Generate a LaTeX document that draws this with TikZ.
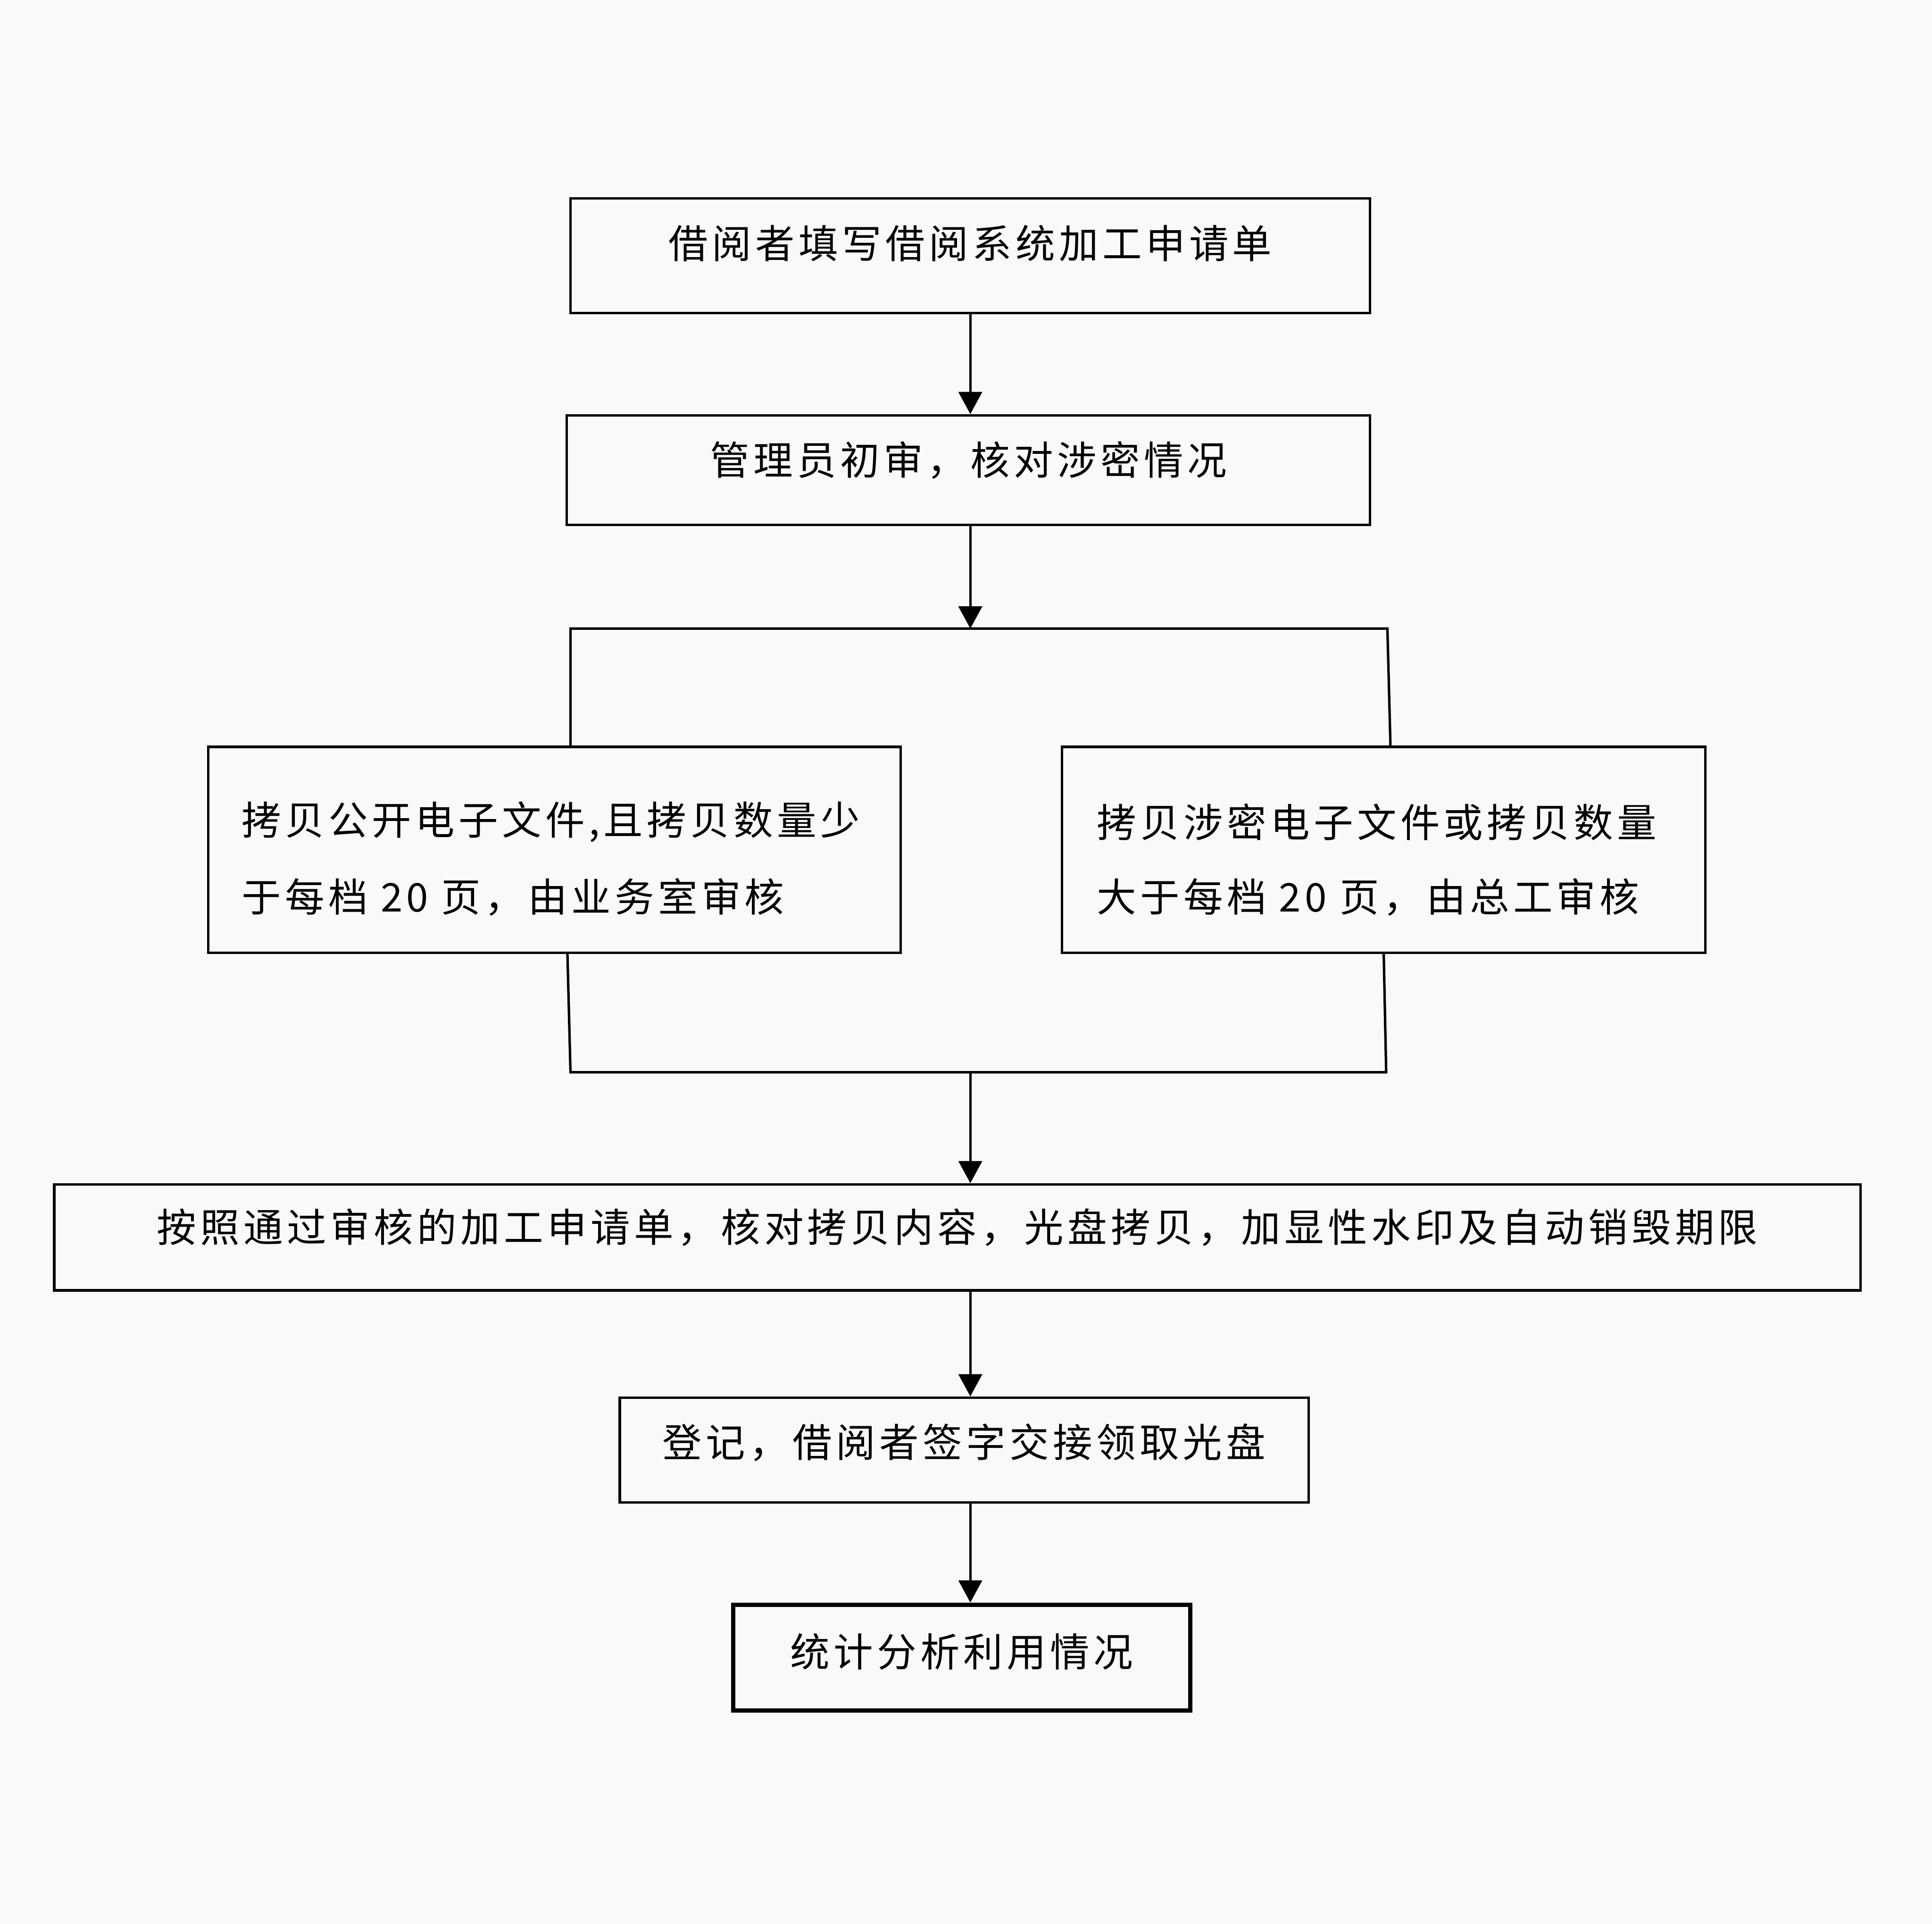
\documentclass[tikz,border=0pt]{standalone}
\usepackage{fontspec}
\setmainfont{Noto Sans CJK SC}[LetterSpace=10]
\usetikzlibrary{arrows.meta}
\definecolor{bg}{RGB}{249,249,249}
\begin{document}
\begin{tikzpicture}[x=1pt,y=-1pt,
  box/.style={draw=black,line width=2pt,fill=bg,inner sep=0pt,rectangle},
  txt/.style={inner sep=0pt,font=\fontsize{32pt}{38pt}\selectfont},
  ln/.style={line width=2pt},
  arr/.style={line width=2pt,-{Triangle[width=19pt,length=18pt]}}]
\fill[bg] (0,0) rectangle (1568,1561);
\useasboundingbox (0,0) rectangle (1568,1561);
% boxes
\node[box,minimum width=649pt,minimum height=93pt] (b1) at (787.5,207.5) {};
\node[box,minimum width=652pt,minimum height=89pt] (b2) at (786,381.5) {};
\node[box,minimum width=562pt,minimum height=167pt] (b3) at (450,689.5) {};
\node[box,minimum width=522pt,minimum height=167pt] (b4) at (1123,689.5) {};
\node[box,minimum width=1466pt,minimum height=86pt] (b5) at (777,1004) {};
\node[box,minimum width=559pt,minimum height=85pt] (b6) at (782.5,1176.5) {};
\node[box,line width=3.5pt,minimum width=371pt,minimum height=86pt] (b7) at (780.5,1345) {};
% texts
\node[txt] (t1) at ([yshift=10pt]b1.center) {借阅者填写借阅系统加工申请单};
\node[txt] (t2) at ([yshift=8pt]b2.center) {管理员初审，核对涉密情况};
\node[txt,anchor=west] (t3a) at (196,667) {拷贝公开电子文件,且拷贝数量少};
\node[txt,anchor=west] (t3b) at (196,728) {于每档 20 页，由业务室审核};
\node[txt,anchor=west] (t4a) at (890,667) {拷贝涉密电子文件或拷贝数量};
\node[txt,anchor=west] (t4b) at (890,728) {大于每档 20 页，由总工审核};
\node[txt] (t5) at ([yshift=8pt]b5.center) {按照通过审核的加工申请单，核对拷贝内容，光盘拷贝，加显性水印及自动销毁期限};
\node[txt] (t6) at ([yshift=6pt]b6.center) {登记，借阅者签字交接领取光盘};
\node[txt] (t7) at ([yshift=5pt]b7.center) {统计分析利用情况};
% bracket coordinates
\coordinate (tl) at (463,510);
\coordinate (tr) at (1126,510);
\coordinate (trb) at (1128.5,606);
\coordinate (bl1) at (460.5,773);
\coordinate (bl2) at (463,870);
\coordinate (br2) at (1125,870);
\coordinate (br1) at (1123,773);
% connectors
\draw[arr] (b1.south) -- (b1.south |- b2.north);
\draw[arr] (b1.south |- b2.south) -- (b1.south |- tl);
\draw[ln] (tl |- b3.north) -- (tl) -- (tr) -- (trb);
\draw[ln] (bl1) -- (bl2) -- (br2) -- (br1);
\draw[arr] (b1.south |- bl2) -- (b1.south |- b5.north);
\draw[arr] (b1.south |- b5.south) -- (b1.south |- b6.north);
\draw[arr] (b1.south |- b6.south) -- (b1.south |- b7.north);
\end{tikzpicture}
\end{document}
